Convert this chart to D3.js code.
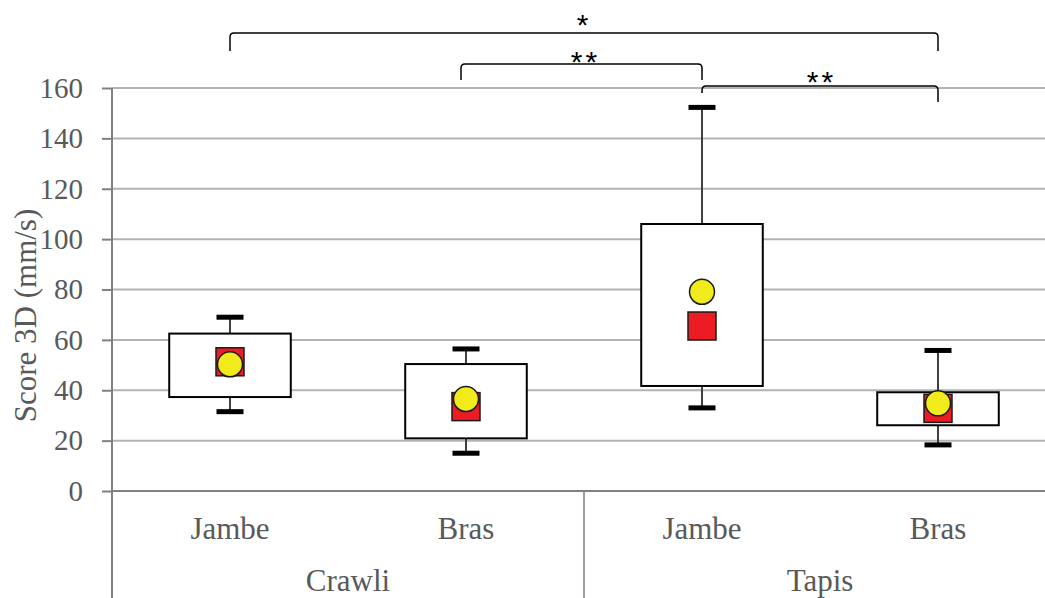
<!DOCTYPE html>
<html>
<head>
<meta charset="utf-8">
<script src="https://cdn.jsdelivr.net/npm/d3@7"></script>
<style>
  body { margin: 0; background: #fff; }
  svg { display: block; }
</style>
</head>
<body>
<div id="chart"></div>
<script>
// categories (two-level x axis)
const groups = ['Crawli', 'Tapis'];
const members = ['Jambe', 'Bras'];
const yTicks = [0, 20, 40, 60, 80, 100, 120, 140, 160];

// box plot values, one per bar (Crawli Jambe, Crawli Bras, Tapis Jambe, Tapis Bras)
const whiskerLow = [31.5, 15, 33, 18.3];
const q1 = [37.3, 20.9, 41.7, 26.1];
const q3 = [62.5, 50.4, 106, 39.2];
const whiskerHigh = [69, 56.4, 152.3, 55.8];
const medians = [51.3, 33.5, 65.5, 32.8];   // red squares
const means = [50.3, 36.5, 79.1, 34.8];     // yellow dots

// significance brackets: from bar, to bar, label, level (in y units)
const brFrom = [0, 1, 2];
const brTo = [3, 2, 3];
const brLabel = ['*', '**', '**'];
const brLevel = [181.8, 169.5, 160.8];

const width = 1045, height = 598;
const plotLeft = 112, plotRight = 1056, plotTop = 88, plotBottom = 491;

const bars = d3.range(groups.length * members.length);
const svg = d3.select('#chart').append('svg')
    .attr('width', width)
    .attr('height', height);

const x = d3.scaleBand().domain(bars).range([plotLeft, plotRight]);
const y = d3.scaleLinear().domain([0, 160]).range([plotBottom, plotTop]);
const cx = i => x(i) + x.bandwidth() / 2;

const textColor = '#595959';
const serif = 'Liberation Serif, Times New Roman, serif';

// gridlines
svg.append('g')
    .selectAll('line')
    .data(yTicks.filter(d => d > 0))
    .join('line')
    .attr('x1', plotLeft).attr('x2', width)
    .attr('y1', d => y(d)).attr('y2', d => y(d))
    .style('stroke', '#b3b3b3')
    .style('stroke-width', 2);

// y axis
const yAxis = svg.append('g')
    .attr('transform', `translate(${plotLeft},0)`)
    .call(d3.axisLeft(y).tickValues(yTicks).tickSize(10).tickPadding(19));
yAxis.select('.domain').remove();
yAxis.selectAll('.tick line').style('stroke', '#808080').style('stroke-width', 2);
yAxis.selectAll('.tick text')
    .style('font-family', serif)
    .style('font-size', '29px')
    .style('fill', textColor);

svg.append('line')
    .attr('x1', plotLeft).attr('x2', plotLeft)
    .attr('y1', plotTop).attr('y2', height)
    .style('stroke', '#808080').style('stroke-width', 2);

// x axis baseline and group separators
svg.append('line')
    .attr('x1', plotLeft).attr('x2', width)
    .attr('y1', y(0)).attr('y2', y(0))
    .style('stroke', '#808080').style('stroke-width', 2);

svg.append('g')
    .selectAll('line')
    .data(groups.slice(1))
    .join('line')
    .attr('x1', (d, i) => x((i + 1) * members.length)).attr('x2', (d, i) => x((i + 1) * members.length))
    .attr('y1', y(0)).attr('y2', height)
    .style('stroke', '#808080').style('stroke-width', 1.5);

// category labels
svg.append('g')
    .selectAll('text')
    .data(bars)
    .join('text')
    .attr('x', d => cx(d))
    .attr('y', 539)
    .attr('text-anchor', 'middle')
    .style('font-family', serif)
    .style('font-size', '31px')
    .style('fill', textColor)
    .text(d => members[d % members.length]);

svg.append('g')
    .selectAll('text')
    .data(groups)
    .join('text')
    .attr('x', (d, i) => (x(i * members.length) + x((i + 1) * members.length - 1) + x.bandwidth()) / 2)
    .attr('y', 591)
    .attr('text-anchor', 'middle')
    .style('font-family', serif)
    .style('font-size', '31px')
    .style('fill', textColor)
    .text(d => d);

// y axis title
svg.append('text')
    .attr('transform', `translate(36,${(y(0) + y(160)) / 2 + 26}) rotate(-90)`)
    .attr('text-anchor', 'middle')
    .style('font-family', serif)
    .style('font-size', '31px')
    .style('fill', textColor)
    .text('Score 3D (mm/s)');

// boxes
const boxW = x.bandwidth() * 0.515;
const capW = 27;
const g = svg.append('g').selectAll('g').data(bars).join('g');

g.append('line')
    .attr('x1', cx).attr('x2', cx)
    .attr('y1', d => y(whiskerLow[d])).attr('y2', d => y(whiskerHigh[d]))
    .style('stroke', '#404040').style('stroke-width', 2);

g.append('rect')
    .attr('x', d => cx(d) - boxW / 2)
    .attr('y', d => y(q3[d]))
    .attr('width', boxW)
    .attr('height', d => y(q1[d]) - y(q3[d]))
    .style('fill', '#fff')
    .style('stroke', '#000')
    .style('stroke-width', 2);

[whiskerLow, whiskerHigh].forEach(arr => {
    g.append('rect')
        .attr('x', d => cx(d) - capW / 2)
        .attr('y', d => y(arr[d]) - 2.5)
        .attr('width', capW)
        .attr('height', 5)
        .style('fill', '#000');
});

g.append('rect')
    .attr('x', d => cx(d) - 14)
    .attr('y', d => y(medians[d]) - 14)
    .attr('width', 28)
    .attr('height', 28)
    .style('fill', '#ed1c24')
    .style('stroke', '#1a1a1a')
    .style('stroke-width', 1.5);

g.append('circle')
    .attr('cx', cx)
    .attr('cy', d => y(means[d]))
    .attr('r', 12.5)
    .style('fill', '#f2eb1c')
    .style('stroke', '#1a1a1a')
    .style('stroke-width', 1.5);

// brackets
const dropL = [18, 16, 7];
const dropR = [18, 16, 16];
const labelDy = [2, 8, 6];
const shiftL = [0, -5, 0];
const r = 4;
const br = svg.append('g').selectAll('g').data(brFrom.map((d, i) => i)).join('g');
br.append('path')
    .attr('d', i => {
        const x1 = cx(brFrom[i]) + shiftL[i], x2 = cx(brTo[i]), yy = y(brLevel[i]);
        return `M${x1},${yy + dropL[i]} L${x1},${yy + r} Q${x1},${yy} ${x1 + r},${yy} ` +
            `L${x2 - r},${yy} Q${x2},${yy} ${x2},${yy + r} L${x2},${yy + dropR[i]}`;
    })
    .style('fill', 'none')
    .style('stroke', '#000')
    .style('stroke-width', 1.5);
br.append('text')
    .attr('x', i => (cx(brFrom[i]) + cx(brTo[i])) / 2 + (brLabel[i].length > 1 ? 1.5 : 0))
    .attr('y', i => y(brLevel[i]) + labelDy[i])
    .attr('text-anchor', 'middle')
    .attr('letter-spacing', 3)
    .style('font-family', 'Liberation Sans, Arial, sans-serif')
    .style('font-size', '30px')
    .style('fill', '#000')
    .text(i => brLabel[i]);
</script>
</body>
</html>
